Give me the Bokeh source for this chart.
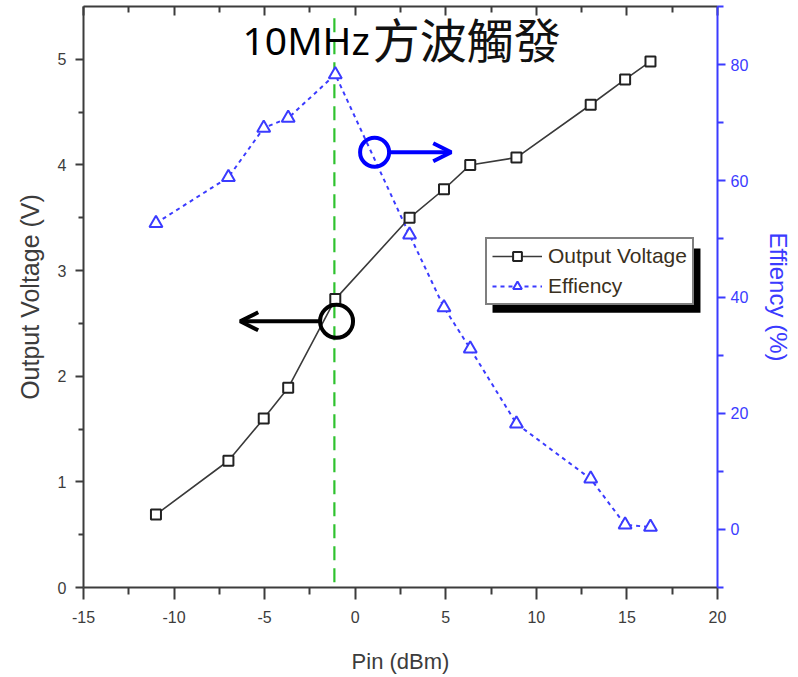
from bokeh.plotting import figure
from bokeh.models import Range1d, LinearAxis, FixedTicker, Arrow, OpenHead, Legend, LegendItem
from bokeh.embed import file_html
from bokeh.resources import INLINE
from bokeh.core.properties import value

# ---- data ----
pin_dbm = [-11.0, -7.0, -5.05, -3.7, -1.1, 3.0, 4.9, 6.35, 8.9, 13.0, 14.9, 16.3]
output_voltage = [0.69, 1.20, 1.60, 1.89, 2.73, 3.50, 3.77, 4.00, 4.07, 4.57, 4.81, 4.98]
efficiency = [52.7, 60.6, 69.1, 70.8, 78.3, 50.7, 38.2, 31.1, 18.2, 8.7, 0.8, 0.4]

x_ticks = [-15, -10, -5, 0, 5, 10, 15, 20]
x_tick_labels = ["-15", "-10", "-5", "0", "5", "10", "15", "20"]
x_minor = [-12.5, -7.5, -2.5, 2.5, 7.5, 12.5, 17.5]
v_ticks = [0, 1, 2, 3, 4, 5]
v_minor = [0.5, 1.5, 2.5, 3.5, 4.5]
eff_ticks = [0, 20, 40, 60, 80]
eff_minor = [-10, 10, 30, 50, 70, 90]

title_latin = "10MHz"
title_cjk = "方波觸發"
series_names = ["Output Voltage", "Effiency"]

# ---- annotation positions ----
vline_x = -1.15
vline_y0, vline_y1 = 0.05, 5.43
blue_ring = (1.07, 4.12)
black_ring = (-1.03, 2.52)
blue_arrow = (1.85, 5.3)
black_arrow = (-1.9, -6.35)
title_x = (-6.22, 0.97)
title_y = (5.185, 5.21)

DARK = "#3c3c3c"
BLUE = "#3b3bff"
FONT = "Liberation Sans"

p = figure(width=798, height=677, output_backend="svg", toolbar_location=None,
           x_range=Range1d(-15, 20), y_range=Range1d(0, 5.5),
           min_border_left=83, min_border_right=81, min_border_top=6, min_border_bottom=90)
p.extra_y_ranges = {"eff": Range1d(-10, 90)}
p.xgrid.visible = False
p.ygrid.visible = False
p.outline_line_color = None
p.background_fill_color = "white"
p.border_fill_color = "white"

# bottom axis
xa = p.xaxis[0]
xa.ticker = FixedTicker(ticks=x_ticks, minor_ticks=x_minor)
xa.major_label_overrides = dict(zip(x_ticks, x_tick_labels))
xa.axis_label = "Pin (dBm)"
xa.axis_label_text_font = FONT
xa.axis_label_text_font_size = "22px"
xa.axis_label_text_font_style = "normal"
xa.axis_label_text_color = DARK
xa.axis_label_standoff = 23
xa.major_label_text_font = FONT
xa.major_label_text_font_size = "16px"
xa.major_label_text_color = DARK
xa.major_label_standoff = 11
xa.axis_line_color = DARK
xa.axis_line_width = 2
xa.major_tick_line_color = DARK
xa.minor_tick_line_color = DARK
xa.major_tick_line_width = 2
xa.minor_tick_line_width = 2
xa.major_tick_out = 12
xa.major_tick_in = 0
xa.minor_tick_out = 7
xa.minor_tick_in = 0

# left axis
ya = p.yaxis[0]
ya.ticker = FixedTicker(ticks=v_ticks, minor_ticks=v_minor)
ya.axis_label = "Output Voltage (V)"
ya.axis_label_text_font = FONT
ya.axis_label_text_font_size = "25px"
ya.axis_label_text_font_style = "normal"
ya.axis_label_text_color = DARK
ya.axis_label_standoff = 11
ya.major_label_text_font = FONT
ya.major_label_text_font_size = "16px"
ya.major_label_text_color = DARK
ya.major_label_standoff = 9
ya.axis_line_color = DARK
ya.axis_line_width = 2
ya.major_tick_line_color = DARK
ya.minor_tick_line_color = DARK
ya.major_tick_line_width = 2
ya.minor_tick_line_width = 2
ya.major_tick_out = 8
ya.major_tick_in = 0
ya.minor_tick_out = 5
ya.minor_tick_in = 0

# right axis (efficiency)
ra = LinearAxis(y_range_name="eff", ticker=FixedTicker(ticks=eff_ticks, minor_ticks=eff_minor))
ra.axis_label = "Effiency (%)"
ra.axis_label_text_font = FONT
ra.axis_label_text_font_size = "24px"
ra.axis_label_text_font_style = "normal"
ra.axis_label_text_color = BLUE
ra.axis_label_standoff = 14
ra.major_label_text_font = FONT
ra.major_label_text_font_size = "16px"
ra.major_label_text_color = BLUE
ra.major_label_standoff = 5
ra.axis_line_color = BLUE
ra.axis_line_width = 2
ra.major_tick_line_color = BLUE
ra.minor_tick_line_color = BLUE
ra.major_tick_line_width = 2
ra.minor_tick_line_width = 2
ra.major_tick_out = 8
ra.major_tick_in = 0
ra.minor_tick_out = 6
ra.minor_tick_in = 0
p.add_layout(ra, "right")

# top axis: ticks only, pointing inward, no labels drawn
ta = LinearAxis(ticker=FixedTicker(ticks=x_ticks, minor_ticks=x_minor))
ta.major_label_text_color = None
ta.major_label_text_font_size = "1px"
ta.major_label_standoff = 0
ta.axis_line_color = DARK
ta.axis_line_width = 2
ta.major_tick_line_color = DARK
ta.minor_tick_line_color = DARK
ta.major_tick_line_width = 2
ta.minor_tick_line_width = 2
ta.major_tick_out = 0
ta.major_tick_in = 9
ta.minor_tick_out = 0
ta.minor_tick_in = 6
p.add_layout(ta, "above")

# legend shadow (drawn under the legend)
p.quad(left=[7.58], right=[19.06], top=[3.21], bottom=[2.60], fill_color="black", line_color=None)

# green marker line
p.segment(x0=[vline_x], y0=[vline_y0], x1=[vline_x], y1=[vline_y1],
          line_color="#2ec22e", line_width=2.2, line_dash="14 8")

# series
eff_line = p.line(pin_dbm, efficiency, y_range_name="eff", line_color=BLUE,
                  line_width=2, line_dash="4 4")
eff_pts = p.scatter(pin_dbm, efficiency, y_range_name="eff", marker="triangle", size=13,
                    fill_color="white", line_color=BLUE, line_width=2)
v_line = p.line(pin_dbm, output_voltage, line_color="#3a3a3a", line_width=1.6)
v_pts = p.scatter(pin_dbm, output_voltage, marker="square", size=10,
                  fill_color="white", line_color="#222222", line_width=2)

# callout rings and arrows
p.scatter([blue_ring[0]], [blue_ring[1]], marker="circle", size=29, fill_color=None,
          line_color="#0000ff", line_width=4)
p.scatter([black_ring[0]], [black_ring[1]], marker="circle", size=33, fill_color=None,
          line_color="black", line_width=4)
p.add_layout(Arrow(end=OpenHead(size=18, line_width=4, line_color="#0000ff"),
                   x_start=blue_arrow[0], y_start=blue_ring[1],
                   x_end=blue_arrow[1], y_end=blue_ring[1],
                   line_width=4, line_color="#0000ff"))
p.add_layout(Arrow(end=OpenHead(size=18, line_width=4, line_color="black"),
                   x_start=black_arrow[0], y_start=black_ring[1],
                   x_end=black_arrow[1], y_end=black_ring[1],
                   line_width=4, line_color="black"))

# title text (Latin part and CJK part)
p.text(x=[title_x[0]], y=[title_y[0]], text=[title_latin], text_font=value("Noto Sans"),
       text_font_size="39px", text_color="black", text_align="left",
       text_baseline="middle")
p.text(x=[title_x[1]], y=[title_y[1]], text=[title_cjk], text_font=value("Noto Sans CJK TC"),
       text_font_size="47px", text_color="#111111", text_align="left",
       text_baseline="middle")

legend = Legend(items=[LegendItem(label=series_names[0], renderers=[v_line, v_pts]),
                       LegendItem(label=series_names[1], renderers=[eff_line, eff_pts])],
                location=(402, 282))
legend.border_line_color = "black"
legend.border_line_width = 2
legend.background_fill_color = "white"
legend.background_fill_alpha = 1
legend.label_text_font = FONT
legend.label_text_font_size = "21px"
legend.label_text_color = "#3a3020"
legend.glyph_width = 50
legend.glyph_height = 22
legend.spacing = 6
legend.padding = 5
legend.label_standoff = 6
legend.margin = 0
p.add_layout(legend)

open("out.html", "w").write(file_html(p, INLINE))
